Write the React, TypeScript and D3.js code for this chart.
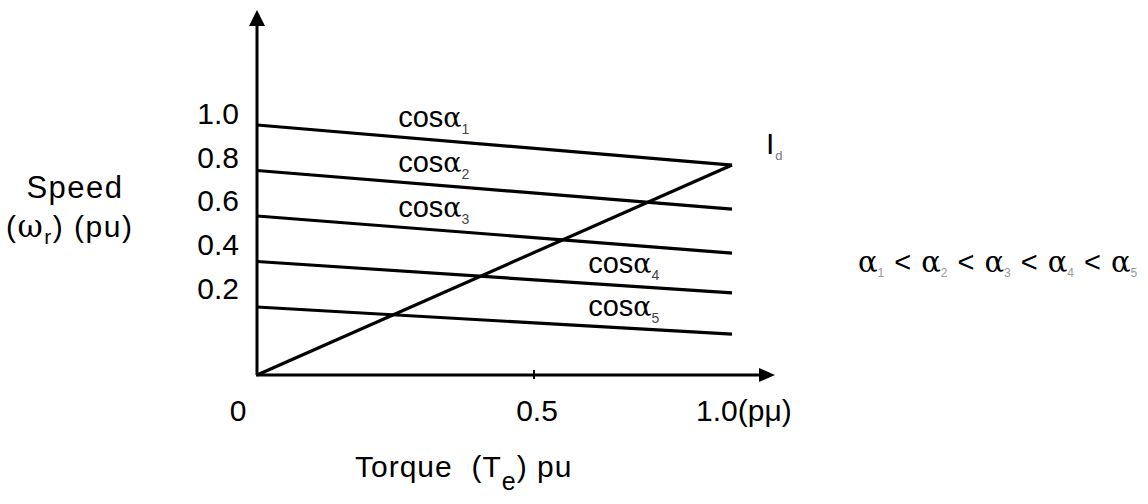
import React from "react";
import * as d3 from "d3";

const W = 1148;
const H = 504;

// Constant-power-factor speed lines: [speed at Te=0, speed at Te=1.0]
const lineNames = ["1", "2", "3", "4", "5"];
const lineStart = [1.0, 0.8, 0.6, 0.4, 0.2];
const lineEnd = [0.824, 0.63, 0.437, 0.262, 0.12];
// Id line from origin
const idLineX = [0, 1.0];
const idLineY = [0, 0.824];

const yTicks = [1.0, 0.8, 0.6, 0.4, 0.2];
const xTicks = [0, 0.5, 1.0];
const xTickLabels = ["0", "0.5", "1.0(pμ)"];

// label positions for cos α labels (in data units)
const labelX = [0.3, 0.3, 0.3, 0.7, 0.7];

const FONT = "'Liberation Sans', Arial, sans-serif";
const GREEK = "'DejaVu Serif', serif";

export default function App() {
  const x = d3.scaleLinear().domain([0, 0.5, 1]).range([257, 534, 732]);
  const y = d3.scaleLinear().domain([0, 0.2, 1.0]).range([375, 307, 125]);
  const line = d3
    .line<[number, number]>()
    .x((d) => x(d[0]))
    .y((d) => y(d[1]));

  const x0 = x(0);
  const y0 = y(0);
  const axisEndX = 775;
  const axisTopY = 10;

  return (
    <svg
      width={W}
      height={H}
      style={{ position: "absolute", left: 0, top: 0, background: "#fff" }}
      fontFamily={FONT}
    >
      <rect width={W} height={H} fill="#fff" />
      {/* axes */}
      <line x1={x0} y1={y0} x2={x0} y2={axisTopY + 12} stroke="#000" strokeWidth={3} />
      <path
        d={`M${x0},${axisTopY} L${x0 - 8},${axisTopY + 16} L${x0 + 8},${axisTopY + 16} Z`}
        fill="#000"
      />
      <line x1={x0 - 1} y1={y0} x2={axisEndX - 12} y2={y0} stroke="#000" strokeWidth={3} />
      <path
        d={`M${axisEndX},${y0} L${axisEndX - 16},${y0 - 7} L${axisEndX - 16},${y0 + 7} Z`}
        fill="#000"
      />
      {/* 0.5 tick */}
      <line x1={x(0.5)} y1={y0 - 5} x2={x(0.5)} y2={y0 + 4} stroke="#000" strokeWidth={2} />

      {/* y tick labels */}
      {yTicks.map((v) => (
        <text
          key={v}
          x={239}
          y={y(v) - 1 - (1 - v) * 9}
          textAnchor="end"
          fontSize={30}
          fill="#000"
        >
          {v.toFixed(1)}
        </text>
      ))}

      {/* x tick labels */}
      {xTicks.map((v, i) => (
        <text
          key={v}
          x={i === 2 ? x(v) - 36 : x(v) - (i === 0 ? 19 : -3)}
          y={421}
          textAnchor={i === 2 ? "start" : "middle"}
          fontSize={30}
          fill="#000"
        >
          {xTickLabels[i]}
        </text>
      ))}

      {/* speed lines */}
      {lineStart.map((s, i) => (
        <path
          key={i}
          d={line([
            [0, s],
            [1, lineEnd[i]],
          ]) as string}
          stroke="#000"
          strokeWidth={3.2}
          fill="none"
        />
      ))}

      {/* Id line */}
      <path
        d={line([
          [idLineX[0], idLineY[0]],
          [idLineX[1], idLineY[1]],
        ]) as string}
        stroke="#000"
        strokeWidth={3.2}
        fill="none"
      />

      {/* cos alpha labels */}
      {lineNames.map((n, i) => {
        const lx = labelX[i];
        const ly = lineStart[i] + (lineEnd[i] - lineStart[i]) * lx;
        return (
          <text key={n} x={x(lx) - 25} y={y(ly) - 10} fontSize={29} fill="#000">
            cos
            <tspan fontFamily={GREEK} fontSize={27}>α</tspan>
            <tspan fontSize={14} dy={7} fill="#444">{n}</tspan>
          </text>
        );
      })}

      {/* Id label */}
      <text x={766} y={154} fontSize={30} fill="#000">
        I<tspan fontSize={13} dy={6} dx={1} fill="#777">d</tspan>
      </text>

      {/* alpha ordering */}
      <text x={858} y={272} fontSize={29} fill="#000">
        {lineNames.map((n, i) => (
          <React.Fragment key={n}>
            <tspan fontFamily={GREEK} dx={i > 0 ? 10 : 0}>α</tspan>
            <tspan fontSize={12} dy={5} fill="#999">{n}</tspan>
            {i < lineNames.length - 1 ? (
              <tspan dy={-5} dx={10}>{"<"}</tspan>
            ) : null}
          </React.Fragment>
        ))}
      </text>

      {/* y axis title */}
      <text x={75} y={198} fontSize={31} textAnchor="middle" fill="#000" letterSpacing={1.5}>
        Speed
      </text>
      <text x={6} y={237} fontSize={30} fill="#000" letterSpacing={1.5}>
        (<tspan fontFamily={GREEK} fontSize={31}>ω</tspan>
        <tspan fontSize={21} dy={7}>r</tspan>
        <tspan dy={-7}>) (pu)</tspan>
      </text>

      {/* x axis title */}
      <text x={355} y={477} fontSize={30} fill="#000" letterSpacing={1} style={{ whiteSpace: "pre" }}>
        {"Torque  (T"}
        <tspan fontSize={25} dy={13}>e</tspan>
        <tspan dy={-13}>) pu</tspan>
      </text>
    </svg>
  );
}
